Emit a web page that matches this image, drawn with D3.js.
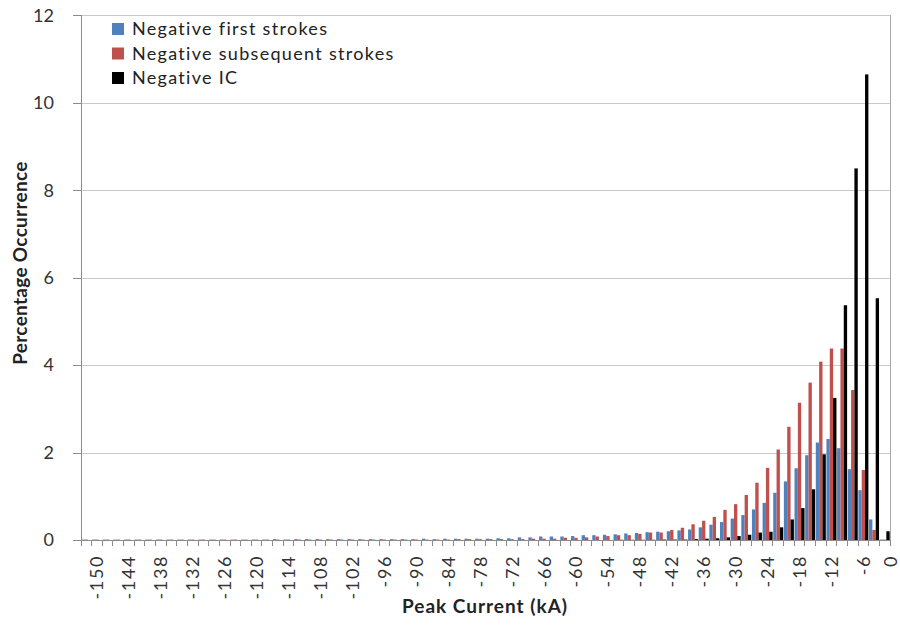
<!DOCTYPE html>
<html>
<head>
<meta charset="utf-8">
<script src="https://cdn.jsdelivr.net/npm/d3@7"></script>
<style>
  html, body { margin: 0; padding: 0; background: #fff; }
  svg { display: block; font-family: Lato, "Open Sans", sans-serif; }
</style>
</head>
<body>
<svg id="chart" width="900" height="628"></svg>
<script>
// Peak-current bins (kA), 2 kA wide
const peakCurrentBins = [-152,-150,-148,-146,-144,-142,-140,-138,-136,-134,-132,-130,-128,-126,-124,-122,-120,-118,-116,-114,-112,-110,-108,-106,-104,-102,-100,-98,-96,-94,-92,-90,-88,-86,-84,-82,-80,-78,-76,-74,-72,-70,-68,-66,-64,-62,-60,-58,-56,-54,-52,-50,-48,-46,-44,-42,-40,-38,-36,-34,-32,-30,-28,-26,-24,-22,-20,-18,-16,-14,-12,-10,-8,-6,-4,-2];

// Percentage occurrence per bin
const firstStrokes = [
  0.01,0.01,0.01,0.01,0.01,0.01,0.01,0.01,0.01,0.01,
  0.01,0.01,0.01,0.01,0.01,0.01,0.01,0.01,0.02,0.01,
  0.02,0.02,0.02,0.02,0.02,0.02,0.02,0.02,0.02,0.02,
  0.02,0.02,0.03,0.02,0.03,0.03,0.03,0.03,0.03,0.04,
  0.04,0.06,0.06,0.08,0.08,0.08,0.09,0.11,0.11,0.12,
  0.13,0.15,0.16,0.18,0.19,0.20,0.22,0.24,0.29,0.35,
  0.41,0.49,0.57,0.70,0.85,1.08,1.34,1.64,1.94,2.23,
  2.31,2.10,1.62,1.14,0.47,0.01];

const subsequentStrokes = [
  0.01,0.01,0.01,0.01,0.01,0.01,0.01,0.01,0.01,0.01,
  0.01,0.01,0.01,0.01,0.01,0.01,0.01,0.01,0.01,0.01,
  0.01,0.01,0.01,0.01,0.01,0.01,0.01,0.01,0.01,0.01,
  0.01,0.01,0.01,0.01,0.01,0.02,0.02,0.02,0.02,0.02,
  0.02,0.02,0.03,0.03,0.03,0.05,0.05,0.06,0.08,0.09,
  0.11,0.11,0.14,0.17,0.17,0.23,0.28,0.36,0.44,0.53,
  0.69,0.82,1.03,1.31,1.65,2.07,2.59,3.14,3.60,4.08,
  4.38,4.38,3.43,1.60,0.23,0.01];

const cloudFlashes = [
  0,0,0,0,0,0,0,0,0,0,
  0,0,0,0,0,0,0,0,0,0,
  0,0,0,0,0,0,0,0,0,0,
  0,0,0,0,0,0,0,0,0,0,
  0,0,0,0,0,0,0,0,0,0,
  0.005,0.005,0.005,0.005,0.01,0.01,0.01,0.02,0.03,0.04,
  0.06,0.09,0.12,0.17,0.19,0.29,0.47,0.73,1.16,1.96,
  3.25,5.37,8.50,10.65,5.53,0.20];

const seriesNames = ["Negative first strokes", "Negative subsequent strokes", "Negative IC"];
const seriesColors = ["#4F81BD", "#C0504D", "#000000"];
const yTickValues = [0, 2, 4, 6, 8, 10, 12];
const xTickLabels = [-150,-144,-138,-132,-126,-120,-114,-108,-102,-96,-90,-84,-78,-72,-66,-60,-54,-48,-42,-36,-30,-24,-18,-12,-6,0];

const seriesValues = [firstStrokes, subsequentStrokes, cloudFlashes];

const svg = d3.select("#chart");
const W = +svg.attr("width");
const plot = { left: 81, right: 890, top: 15.4, bottom: 540 };

const x = d3.scaleBand()
  .domain(peakCurrentBins)
  .range([plot.left, plot.right])
  .paddingInner(0.06)
  .paddingOuter(0.03);

const xs = d3.scaleBand()
  .domain(d3.range(seriesNames.length))
  .range([0, x.bandwidth()]);

const y = d3.scaleLinear()
  .domain([0, 12])
  .range([plot.bottom, plot.top]);

// Continuous kA position, aligned with the bin centres, for the tick labels
const first = peakCurrentBins[0], last = peakCurrentBins[peakCurrentBins.length - 1];
const xv = d3.scaleLinear()
  .domain([first, last])
  .range([x(first) + x.bandwidth() / 2, x(last) + x.bandwidth() / 2]);

// Horizontal gridlines
svg.append("g")
  .attr("transform", `translate(${plot.left},0)`)
  .call(d3.axisLeft(y).tickValues(yTickValues.filter(v => v > 0)).tickSize(-(plot.right - plot.left)).tickFormat(""))
  .call(g => g.select(".domain").remove())
  .call(g => g.selectAll("line").attr("stroke", "#c9c9c9").attr("shape-rendering", "crispEdges"));

// Right border of the plot area
svg.append("line")
  .attr("x1", plot.right).attr("x2", plot.right)
  .attr("y1", y(12)).attr("y2", y(0))
  .attr("stroke", "#a8a8a8").attr("shape-rendering", "crispEdges");

// Bars
const groups = svg.append("g").selectAll("g")
  .data(peakCurrentBins)
  .join("g")
  .attr("transform", d => `translate(${x(d)},0)`);

groups.selectAll("rect")
  .data((d, i) => seriesValues.map((vals, s) => ({ s, v: vals[i] })))
  .join("rect")
  .attr("x", d => xs(d.s))
  .attr("width", xs.bandwidth())
  .attr("y", d => y(d.v))
  .attr("height", d => y(0) - y(d.v))
  .attr("fill", d => seriesColors[d.s]);

// Y axis
svg.append("g")
  .attr("transform", `translate(${plot.left},0)`)
  .call(d3.axisLeft(y).tickValues(yTickValues).tickSize(8).tickPadding(19))
  .call(g => g.select(".domain").attr("stroke", "#8c8c8c").attr("shape-rendering", "crispEdges"))
  .call(g => g.selectAll(".tick line").attr("stroke", "#8c8c8c").attr("shape-rendering", "crispEdges"))
  .call(g => g.selectAll("text").attr("fill", "#333").attr("font-size", 18).attr("font-family", "Lato, sans-serif"));

// X axis line and tick marks at bin edges
const step = x.step();
const edges = peakCurrentBins.map(c => x(c) - step * x.paddingInner() / 2);
edges.push(x(last) + x.bandwidth() + step * x.paddingInner() / 2);

svg.append("line")
  .attr("x1", plot.left - 8).attr("x2", plot.right)
  .attr("y1", plot.bottom).attr("y2", plot.bottom)
  .attr("stroke", "#8c8c8c").attr("shape-rendering", "crispEdges");

svg.append("g").selectAll("line")
  .data(edges)
  .join("line")
  .attr("x1", d => d).attr("x2", d => d)
  .attr("y1", plot.bottom).attr("y2", plot.bottom + 6)
  .attr("stroke", "#8c8c8c").attr("shape-rendering", "crispEdges");

// X tick labels (rotated); the last one is kept inside the canvas
svg.append("g")
  .attr("transform", `translate(0,${plot.bottom})`)
  .call(d3.axisBottom(xv).tickValues(xTickLabels).tickSize(0).tickFormat(d => String(d)))
  .call(g => g.select(".domain").remove())
  .call(g => g.selectAll(".tick").attr("transform", d => `translate(${Math.min(xv(d), W - 9)},0)`))
  .call(g => g.selectAll("text")
    .attr("fill", "#333")
    .attr("font-size", 18)
    .attr("font-family", "Lato, sans-serif")
    .attr("letter-spacing", 1.6)
    .attr("text-anchor", "end")
    .attr("transform", "translate(0,15) rotate(-90)")
    .attr("x", 0).attr("y", 0).attr("dy", "0.36em"));

// Axis titles
svg.append("text")
  .attr("transform", "translate(27,263) rotate(-90)")
  .attr("text-anchor", "middle")
  .attr("font-size", 19).attr("font-weight", "bold").attr("fill", "#222")
  .attr("letter-spacing", 0.3)
  .text("Percentage Occurrence");

svg.append("text")
  .attr("x", 485).attr("y", 613)
  .attr("text-anchor", "middle")
  .attr("font-size", 19).attr("font-weight", "bold").attr("fill", "#222")
  .attr("letter-spacing", 1.0)
  .text("Peak Current (kA)");

// Legend
const legend = svg.append("g").attr("transform", "translate(112,35)");
const rows = legend.selectAll("g")
  .data(seriesNames)
  .join("g")
  .attr("transform", (d, i) => `translate(0,${i * 24.5})`);
rows.append("rect")
  .attr("x", 0).attr("y", -12).attr("width", 12).attr("height", 12)
  .attr("fill", (d, i) => seriesColors[i]);
rows.append("text")
  .attr("x", 20).attr("y", 0)
  .attr("font-size", 18).attr("fill", "#222")
  .attr("letter-spacing", 1.3)
  .text(d => d);
</script>
</body>
</html>
